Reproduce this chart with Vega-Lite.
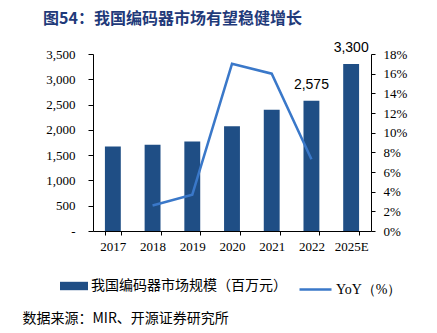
{
  "$schema": "https://vega.github.io/schema/vega-lite/v6.json",
  "width": 278,
  "height": 177,
  "autosize": {"type": "none"},
  "padding": {"left": 93, "top": 54, "right": 66, "bottom": 102},
  "background": "white",
  "config": {"view": {"stroke": null}},
  "title": {
    "text": "图54：我国编码器市场有望稳健增长",
    "anchor": "start",
    "frame": "group",
    "dx": -50,
    "offset": 14,
    "font": "Noto Sans CJK SC",
    "fontSize": 16,
    "fontWeight": "bold",
    "color": "#1F3A7A"
  },
  "data": {
    "values": [
      {"year": "2017", "size": 1670, "yoy": null},
      {"year": "2018", "size": 1705, "yoy": 2.6},
      {"year": "2019", "size": 1770, "yoy": 3.7},
      {"year": "2020", "size": 2070, "yoy": 17.0},
      {"year": "2021", "size": 2400, "yoy": 16.0},
      {"year": "2022", "size": 2575, "yoy": 7.3},
      {"year": "2025E", "size": 3300, "yoy": null}
    ]
  },
  "encoding": {
    "x": {
      "field": "year",
      "type": "ordinal",
      "sort": null,
      "scale": {"paddingInner": 0.6, "paddingOuter": 0.3},
      "axis": {
        "title": "数据来源：MIR、开源证券研究所",
        "titleFont": "Noto Sans CJK SC",
        "titleFontSize": 14,
        "titleFontWeight": "normal",
        "titleColor": "#000000",
        "titleAlign": "left",
        "titleAnchor": null,
        "titleBaseline": "middle",
        "titleX": -71,
        "titleY": 87,
        "labelAngle": 0,
        "labelFont": "Liberation Serif",
        "labelFontSize": 13,
        "labelColor": "#000000",
        "labelPadding": 5,
        "tickSize": 4,
        "tickBand": "extent",
        "tickColor": "#000000",
        "domainColor": "#000000",
        "grid": false
      }
    }
  },
  "layer": [
    {
      "mark": {"type": "bar"},
      "encoding": {
        "y": {
          "field": "size",
          "type": "quantitative",
          "scale": {"domain": [0, 3500], "nice": false},
          "axis": {
            "title": null,
            "values": [0, 500, 1000, 1500, 2000, 2500, 3000, 3500],
            "labelExpr": "datum.value == 0 ? '-\u00a0\u00a0\u00a0' : format(datum.value, ',')",
            "labelFont": "Liberation Serif",
            "labelFontSize": 13,
            "labelColor": "#000000",
            "labelPadding": 13,
            "tickSize": 5,
            "tickColor": "#000000",
            "domainColor": "#000000",
            "grid": false
          }
        },
        "color": {
          "datum": "我国编码器市场规模（百万元）",
          "type": "nominal",
          "scale": {"range": ["#1F4E85"]},
          "legend": {
            "title": null,
            "orient": "none",
            "legendX": -33,
            "legendY": 218,
            "padding": 0,
            "symbolType": "M-1,-0.3L1,-0.3L1,0.3L-1,0.3Z",
            "symbolSize": 784,
            "symbolStrokeWidth": 0,
            "labelOffset": 3,
            "labelLimit": 300,
            "labelFont": "Noto Sans CJK SC",
            "labelFontSize": 14,
            "labelColor": "#000000"
          }
        }
      }
    },
    {
      "transform": [{"filter": "datum.year == '2022' || datum.year == '2025E'"}],
      "mark": {"type": "text", "baseline": "bottom", "dy": -9, "font": "Liberation Sans", "fontSize": 14, "color": "#000000"},
      "encoding": {
        "y": {
          "field": "size",
          "type": "quantitative",
          "scale": {"domain": [0, 3500], "nice": false},
          "axis": null
        },
        "text": {"field": "size", "type": "quantitative", "format": ","}
      }
    },
    {
      "mark": {"type": "line", "strokeWidth": 2.5},
      "encoding": {
        "y": {
          "field": "yoy",
          "type": "quantitative",
          "scale": {"domain": [0, 18], "nice": false},
          "axis": {
            "orient": "right",
            "title": null,
            "values": [0, 2, 4, 6, 8, 10, 12, 14, 16, 18],
            "labelExpr": "datum.value + '%'",
            "labelFont": "Liberation Serif",
            "labelFontSize": 13,
            "labelColor": "#000000",
            "labelPadding": 8,
            "tickSize": 4,
            "tickColor": "#000000",
            "domainColor": "#000000",
            "grid": false
          }
        },
        "stroke": {
          "datum": "YoY（%）",
          "type": "nominal",
          "scale": {"range": ["#3A78C9"]},
          "legend": {
            "title": null,
            "orient": "none",
            "legendX": 205,
            "legendY": 218,
            "padding": 0,
            "symbolType": "stroke",
            "symbolSize": 1024,
            "symbolStrokeWidth": 2.5,
            "labelOffset": 3,
            "labelLimit": 300,
            "labelFont": "Liberation Serif",
            "labelFontSize": 14,
            "labelColor": "#000000"
          }
        }
      }
    }
  ],
  "resolve": {"scale": {"y": "independent", "color": "independent"}}
}
